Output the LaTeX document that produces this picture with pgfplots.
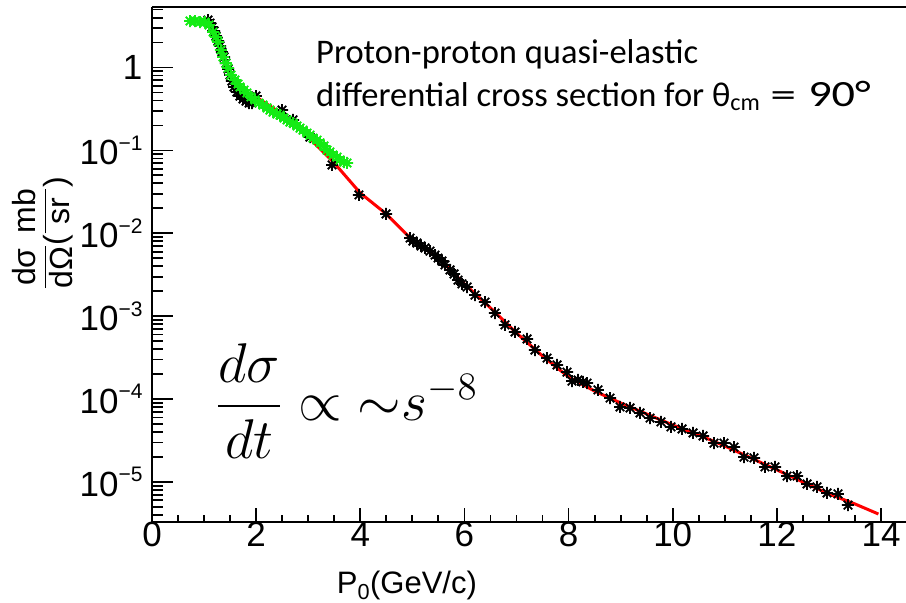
\documentclass[border=0pt]{standalone}
\usepackage{amsmath}
\usepackage{graphicx}
\usepackage{fontspec}
\setmainfont{Liberation Sans}
\newfontfamily\calibri{Carlito}
\usepackage{pgfplots}
\pgfplotsset{compat=1.18}

\definecolor{rootgreen}{RGB}{20,235,20}
\definecolor{rootred}{RGB}{255,0,0}

% eight-armed asterisk marker
\pgfdeclareplotmark{rootstar}{%
  \pgfpathmoveto{\pgfqpoint{-\pgfplotmarksize}{0pt}}%
  \pgfpathlineto{\pgfqpoint{\pgfplotmarksize}{0pt}}%
  \pgfpathmoveto{\pgfqpoint{0pt}{-\pgfplotmarksize}}%
  \pgfpathlineto{\pgfqpoint{0pt}{\pgfplotmarksize}}%
  \pgfpathmoveto{\pgfqpoint{-.707\pgfplotmarksize}{-.707\pgfplotmarksize}}%
  \pgfpathlineto{\pgfqpoint{.707\pgfplotmarksize}{.707\pgfplotmarksize}}%
  \pgfpathmoveto{\pgfqpoint{-.707\pgfplotmarksize}{.707\pgfplotmarksize}}%
  \pgfpathlineto{\pgfqpoint{.707\pgfplotmarksize}{-.707\pgfplotmarksize}}%
  \pgfusepathqstroke}

\newcommand\expo[1]{\raisebox{0.42em}{\fontsize{21}{21}\selectfont #1}}
\newcommand\lowparen[1]{\raisebox{-0.45em}{#1}}

% measured cross sections (black)
\pgfplotstableread{
x y
1.075 3.74
1.114 3.44
1.152 3.08
1.191 2.76
1.229 2.40
1.268 2.09
1.306 1.82
1.344 1.54
1.383 1.34
1.421 1.13
1.460 0.959
1.498 0.812
1.536 0.687
1.575 0.582
1.632 0.506
1.690 0.453
1.748 0.417
1.805 0.394
1.863 0.373
1.920 0.373
1.997 0.453
2.497 0.307
2.708 0.233
3.034 0.145
3.457 0.0667
3.975 0.0290
4.494 0.0171
4.955 0.00877
5.012 0.00807
5.089 0.00764
5.166 0.00703
5.243 0.00665
5.339 0.00611
5.435 0.00547
5.493 0.00503
5.569 0.00463
5.627 0.00415
5.723 0.00361
5.800 0.00323
5.877 0.00273
5.953 0.00245
6.050 0.00225
6.203 0.00180
6.395 0.00148
6.587 0.00109
6.779 7.84e-4
6.971 6.45e-4
7.202 5.31e-4
7.355 3.91e-4
7.586 3.13e-4
7.778 2.58e-4
7.970 2.12e-4
8.066 1.65e-4
8.181 1.70e-4
8.277 1.61e-4
8.354 1.56e-4
8.565 1.29e-4
8.796 1.03e-4
8.988 8.03e-5
9.180 7.81e-5
9.372 6.80e-5
9.564 5.91e-5
9.775 5.30e-5
9.967 4.61e-5
10.179 4.36e-5
10.390 3.90e-5
10.582 3.59e-5
10.793 2.95e-5
10.985 2.95e-5
11.177 2.64e-5
11.369 2.00e-5
11.561 1.95e-5
11.773 1.52e-5
11.965 1.52e-5
12.195 1.18e-5
12.387 1.18e-5
12.579 9.46e-6
12.771 8.71e-6
12.963 7.37e-6
13.174 7.17e-6
13.366 5.27e-6
}\blackdata

% low-energy measurements (green)
\pgfplotstableread{
x y
0.730 3.64
0.826 3.64
0.922 3.54
1.018 3.54
1.095 3.26
1.172 2.68
1.229 2.33
1.268 2.03
1.325 1.63
1.364 1.34
1.421 1.13
1.460 0.986
1.517 0.812
1.594 0.707
1.652 0.632
1.690 0.582
1.767 0.535
1.824 0.493
1.901 0.441
1.978 0.406
2.055 0.373
2.132 0.353
2.209 0.325
2.266 0.307
2.324 0.290
2.401 0.275
2.458 0.267
2.535 0.246
2.593 0.233
2.650 0.220
2.708 0.214
2.785 0.197
2.842 0.186
2.900 0.176
2.977 0.162
3.034 0.153
3.092 0.141
3.169 0.133
3.226 0.123
3.303 0.113
3.361 0.101
3.418 0.0957
3.476 0.0880
3.553 0.0832
3.611 0.0766
3.687 0.0724
3.745 0.0705
}\greendata

% fit curve (red)
\pgfplotstableread{
x y
2.0 0.441
2.5 0.275
3.0 0.145
3.5 0.0705
4.0 0.0306
4.5 0.0171
5.0 0.0083
5.5 0.00503
6.0 0.00245
6.5 0.00126
7.0 6.27e-4
7.5 3.31e-4
8.0 1.85e-4
8.5 1.25e-4
9.0 8.97e-5
9.5 6.61e-5
10.0 4.87e-5
10.5 3.69e-5
11.0 2.72e-5
11.5 1.95e-5
12.0 1.40e-5
12.5 1.00e-5
13.0 7.17e-6
13.5 5.43e-6
13.95 4.11e-6
}\fitdata

\begin{document}
\begin{tikzpicture}
\path[use as bounding box] (-152pt,-81pt) rectangle (754pt,522pt);
\begin{axis}[
  at={(0pt,0pt)}, anchor=south west,
  scale only axis, width=754pt, height=515pt,
  xmin=0, xmax=14.48,
  ymode=log, ymin=3.29e-6, ymax=5.37,
  axis lines=left,
  axis line style={-, line width=2.5pt},
  tick align=inside,
  tick style={line width=1.8pt, black},
  xtick={0,2,...,14}, minor x tick num=3,
  xtick style={/pgfplots/major tick length=14pt, /pgfplots/minor tick length=7pt},
  ytick style={/pgfplots/major tick length=21pt, /pgfplots/minor tick length=11pt},
  ytick={1e-5,1e-4,1e-3,1e-2,1e-1,1},
  yticklabels={10\expo{−5},10\expo{−4},10\expo{−3},10\expo{−2},10\expo{−1},1},
  minor ytick={4e-6,5e-6,6e-6,7e-6,8e-6,9e-6,
    2e-5,3e-5,4e-5,5e-5,6e-5,7e-5,8e-5,9e-5,
    2e-4,3e-4,4e-4,5e-4,6e-4,7e-4,8e-4,9e-4,
    2e-3,3e-3,4e-3,5e-3,6e-3,7e-3,8e-3,9e-3,
    2e-2,3e-2,4e-2,5e-2,6e-2,7e-2,8e-2,9e-2,
    0.2,0.3,0.4,0.5,0.6,0.7,0.8,0.9,2,3,4,5},
  /pgf/number format/assume math mode=true,
  tick label style={font=\fontsize{35}{40}\selectfont},
  xticklabel style={yshift=3pt},
  yticklabel style={xshift=-6pt},
  xlabel={P\textsubscript{0}(GeV/c)},
  xlabel style={font=\fontsize{31}{34}\selectfont, at={(axis description cs:0.338,-0.138)}, anchor=base},
  ylabel={$\dfrac{\text{dσ}}{\text{dΩ}}\lowparen{(}\dfrac{\text{mb}}{\text{sr}}\lowparen{)}$},
  ylabel style={font=\fontsize{32}{36}\selectfont, at={(axis description cs:-0.145,0.561)}, anchor=center},
  clip=false,
]
\addplot[only marks, mark=rootstar, mark size=6pt, mark options={line width=1.8pt, black}] table {\blackdata};
\addplot[rootred, line width=3pt, no marks] table {\fitdata};
\addplot[only marks, mark=rootstar, mark size=6pt, mark options={line width=1.8pt, rootgreen}] table {\greendata};

\draw[line width=2.5pt] (rel axis cs:0,1) -- (rel axis cs:1,1);

\node[anchor=base west, inner sep=0pt, font=\calibri\fontsize{34.5}{41}\selectfont]
  at (axis description cs:0.2175,0.891) {Proton-proton quasi-elastic};
\node[anchor=base west, inner sep=0pt, font=\calibri\fontsize{34.5}{41}\selectfont]
  at (axis description cs:0.2175,0.807) {differential cross section for θ\textsubscript{cm}\hspace{10pt}\scalebox{1.5}[1]{=}\hspace{12pt}{\fontsize{37}{40}\selectfont\scalebox{1.25}[1]{90°}}};
\node[anchor=west, inner sep=0pt, font=\fontsize{20.74}{24}\selectfont]
  at (axis description cs:0.0836,0.235) {\scalebox{2.7}{$\dfrac{d\sigma}{dt}\propto{\sim}s^{-8}$}};
\end{axis}
\end{tikzpicture}
\end{document}
